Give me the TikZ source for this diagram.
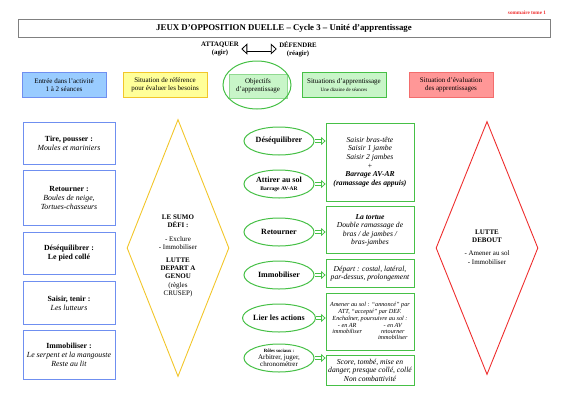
\documentclass[tikz,border=0pt]{standalone}
\usepackage{fontspec}
\setmainfont{Liberation Serif}
\usetikzlibrary{positioning,arrows.meta,shapes.geometric}

\definecolor{bleuT}{HTML}{6F8FF0}
\definecolor{bleuF}{HTML}{99CCFF}
\definecolor{jauneT}{HTML}{F2C62A}
\definecolor{jauneF}{HTML}{FFFF99}
\definecolor{vertT}{HTML}{46C046}
\definecolor{vertF}{HTML}{C8F5C8}
\definecolor{rougeT}{HTML}{EE2E2E}
\definecolor{rougeF}{HTML}{FF9797}

\tikzset{
	hdr/.style = {draw, line width=0.6pt, minimum width=84, minimum height=25,
		inner sep=1pt},
	lbox/.style = {draw=bleuT, line width=0.8pt, minimum width=92,
		inner sep=1pt, font=\fontsize{7.8}{9}\selectfont},
	rbox/.style = {draw=vertT, line width=0.8pt, minimum width=88,
		inner sep=1pt, font=\fontsize{7.6}{8.6}\selectfont\itshape},
	obj/.style = {ellipse, draw=vertT, line width=1pt, fill=white,
		minimum width=70, minimum height=28, inner sep=0pt,
		font=\fontsize{8}{9}\selectfont\bfseries},
	losange/.style = {diamond, line width=0.9pt, minimum width=102,
		inner sep=0pt},
	fleche/.style = {draw=vertT, double=white, double distance=2pt,
		line width=0.8pt, -{Triangle[open,length=4.5pt,width=8pt]}}
}

\begin{document}
\begin{tikzpicture}[x=1pt, y=-1pt,
every node/.style = {align=center,
	font=\fontsize{7}{8.2}\selectfont}
]
\path[use as bounding box] (0,0) rectangle (566,400);

% en-tete
\node[text=rougeT, font=\fontsize{5.2}{6}\selectfont\bfseries] (somm) at (527,13)
	{sommaire tome 1};
\node[draw=gray, line width=0.9pt, minimum width=532, minimum height=18,
	font=\fontsize{8.8}{10}\selectfont\bfseries] (titre) at (284,28)
	{JEUX D'OPPOSITION DUELLE -- Cycle 3 -- Unité d'apprentissage};
\node[font=\fontsize{6.8}{8}\selectfont\bfseries] (att) at (220,49)
	{ATTAQUER\\(agir)};
\node[font=\fontsize{6.8}{8}\selectfont\bfseries] (def) at (298,49)
	{DÉFENDRE\\(réagir)};
\draw[double, double distance=3.4pt, line width=0.8pt,
	{Triangle[open,length=6pt,width=11pt]}-{Triangle[open,length=6pt,width=11pt]}]
	([xshift=-1pt]att.east) -- ([xshift=1pt]def.west);

% colonnes
\node[hdr, draw=bleuT, fill=bleuF] (entree) at (64,85)
	{Entrée dans l'activité\\1 à 2 séances};
\node[hdr, draw=jauneT, fill=jauneF] (refer) at (165,85)
	{Situation de référence\\pour évaluer les besoins};
\node[hdr, draw=vertT!60, fill=vertF, minimum width=58, minimum height=24] (objt) at (258,86)
	{Objectifs\\d'apprentissage};
\node[ellipse, draw=vertT, line width=1pt, minimum width=68, minimum height=48]
	(objc) at (257,85) {};
\node[hdr, draw=vertT, fill=vertF] (sitapp) at (344,85)
	{Situations d'apprentissage\\{\fontsize{5}{6}\selectfont Une dizaine de séances}};
\node[hdr, draw=rougeT!70, fill=rougeF] (sitev) at (451,85)
	{Situation d'évaluation\\des apprentissages};

% entree dans l'activite
\node[lbox, minimum height=42] (tire) at (69,143)
	{\textbf{Tire, pousser :}\\\textit{Moules et mariniers}};
\node[lbox, minimum height=55, below=6pt of tire] (retour)
	{\textbf{Retourner :}\\\textit{Boules de neige,}\\\textit{Tortues-chasseurs}};
\node[lbox, minimum height=42, below=6pt of retour] (desq)
	{\textbf{Déséquilibrer :}\\\textbf{Le pied collé}};
\node[lbox, minimum height=43, below=6pt of desq] (saisir)
	{\textbf{Saisir, tenir :}\\\textit{Les lutteurs}};
\node[lbox, minimum height=49, below=5pt of saisir] (immo)
	{\textbf{Immobiliser :}\\\textit{Le serpent et la mangouste}\\\textit{Reste au lit}};

% situation de reference
\node[losange, draw=jauneT, minimum height=257] (sumo) at (178,248) {};
\node (sumotxt) at (178,256)
	{\textbf{LE SUMO}\\\textbf{DÉFI :}\\[5pt]- Exclure\\- Immobiliser\\[5pt]%
	\textbf{LUTTE}\\\textbf{DEPART A}\\\textbf{GENOU}\\(règles\\CRUSEP)};

% objectifs
\node[obj] (o1) at (279,141) {Déséquilibrer};
\node[obj] (o2) at (279,184)
	{Attirer au sol\\[-1pt]{\fontsize{5.5}{6.5}\selectfont Barrage AV-AR}};
\node[obj] (o3) at (279,232) {Retourner};
\node[obj] (o4) at (279,275) {Immobiliser};
\node[obj] (o5) at (279,318) {Lier les actions};
\node[obj, font=\fontsize{7}{7}\selectfont] (o6) at (279,358)
	{{\fontsize{4.8}{5.5}\selectfont\bfseries Rôles sociaux :}\\Arbitrer, juger,\\chronométrer};

% situations d'apprentissage
\node[rbox, minimum height=78] (s1) at (370,162)
	{Saisir bras-tête\\Saisir 1 jambe\\Saisir 2 jambes\\+\\\textbf{Barrage AV-AR}\\%
	\textbf{(ramassage des appuis)}};
\node[rbox, minimum height=47, below=5pt of s1] (s2)
	{\textbf{La tortue}\\Double ramassage de\\bras / de jambes /\\bras-jambes};
\node[rbox, minimum height=28, below=5pt of s2] (s3)
	{Départ : costal, latéral,\\par-dessus, prolongement};
\node[rbox, minimum height=57, below=5pt of s3,
	font=\fontsize{6.2}{7}\selectfont\itshape] (s4)
	{Amener au sol : ``annoncé'' par\\ATT, ``accepté'' par DEF.\\%
	Enchaîner, poursuivre au sol :\\%
	\begin{tabular}{@{}c@{\hspace{16pt}}c@{}}- en AR & - en AV\\[-1pt]
	immobiliser & retourner\\[-1pt] & immobiliser\end{tabular}};
\node[rbox, minimum height=30, below=4pt of s4] (s5)
	{Score, tombé, mise en\\danger, presque collé, collé\\Non combattivité};

\draw[fleche] (o1.east) -- (o1.east -| s1.west);
\draw[fleche] (o2.east) -- (o2.east -| s1.west);
\draw[fleche] (o3.east) -- (o3.east -| s2.west);
\draw[fleche] (o4.east) -- (o4.east -| s3.west);
\draw[fleche] (o5.east) -- (o5.east -| s4.west);
\draw[fleche] (o6.east) -- (o6.east -| s5.west);

% situation d'evaluation
\node[losange, draw=rougeT, minimum height=253] (debout) at (487,248) {};
\node (debtxt) at (487,247)
	{\textbf{LUTTE}\\\textbf{DEBOUT}\\[5pt]- Amener au sol\\- Immobiliser};
\end{tikzpicture}
\end{document}
